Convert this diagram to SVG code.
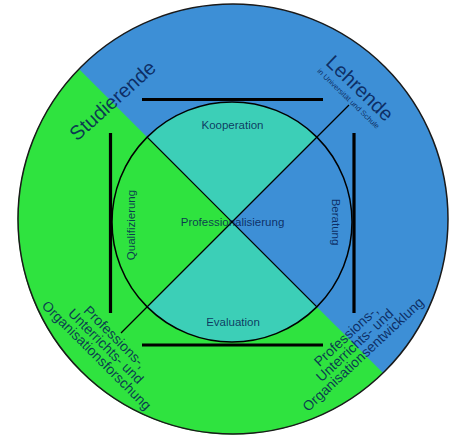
<svg xmlns="http://www.w3.org/2000/svg" width="470" height="441" viewBox="0 0 470 441">
<style>
.t{font-family:"Liberation Sans",Arial,Helvetica,sans-serif;fill:#051c52;fill-opacity:.85;text-anchor:middle}
.s{font-size:11.5px}
.big{font-size:20px}
.mid{font-size:14px}
.bar{stroke:#000;stroke-width:3.2;fill:none}
.ln{stroke:#000;stroke-width:1.3;fill:none}
.blue{fill:#3d8fd6}
.green{fill:#2fe33f}
.teal{fill:#3ccfb7}
</style>
<rect width="470" height="441" fill="#fff"/>
<g id="outer">
<circle class="blue" cx="233" cy="219" r="215"/>
<path class="green" d="M383.02,373.02 A215,215 0 0 1 78.98,68.98 Z"/>
<circle cx="233" cy="219" r="215" fill="none" stroke="#1a1a1a" stroke-width="1.5"/>
</g>
<g id="inner">
<path class="teal" d="M232,222 L147.15,137.15 A120,120 0 0 1 316.85,137.15 Z"/>
<path class="blue" d="M232,222 L316.85,137.15 A120,120 0 0 1 316.85,306.85 Z"/>
<path class="teal" d="M232,222 L316.85,306.85 A120,120 0 0 1 147.15,306.85 Z"/>
<path class="green" d="M232,222 L147.15,306.85 A120,120 0 0 1 147.15,137.15 Z"/>
<circle cx="232" cy="222" r="120" fill="none" stroke="#000" stroke-width="1.5"/>
</g>
<g id="connectors">
<line class="ln" x1="147.15" y1="137.15" x2="316.85" y2="306.85"/>
<line class="ln" x1="349" y1="105" x2="121" y2="333"/>
<line class="bar" x1="142" y1="99.5" x2="323" y2="99.5"/>
<line class="bar" x1="142" y1="345" x2="323" y2="345"/>
<line class="bar" x1="110.5" y1="133" x2="110.5" y2="313"/>
<line class="bar" x1="354" y1="133" x2="354" y2="313"/>
</g>
<g id="kooperation"><text class="t s" x="232.5" y="129">Kooperation</text></g>
<g id="evaluation"><text class="t s" x="233" y="326">Evaluation</text></g>
<g id="professionalisierung"><text class="t s" x="232.5" y="225.5">Professionalisierung</text></g>
<g id="qualifizierung"><text class="t s" transform="translate(131.5,225) rotate(-90)" y="3.5">Qualifizierung</text></g>
<g id="beratung"><text class="t s" transform="translate(335,222) rotate(90)" y="3.5">Beratung</text></g>
<g id="studierende"><text class="t big" transform="translate(112.5,100.5) rotate(-42)" y="7">Studierende</text></g>
<g id="lehrende">
<text class="t big" transform="translate(360,88) rotate(44)" y="7">Lehrende</text>
<text class="t" font-size="7.5" transform="translate(348.5,98.5) rotate(44)" y="2.7">in Universität und Schule</text>
</g>
<g id="forschung">
<text class="t mid" transform="translate(106,346) rotate(45)"><tspan x="0" y="-8">Professions-,</tspan><tspan x="0" y="5">Unterrichts- und</tspan><tspan x="0" y="18">Organisationsforschung</tspan></text>
</g>
<g id="entwicklung">
<text class="t mid" transform="translate(354.5,345) rotate(-43)"><tspan x="0" y="-7.5">Professions-,</tspan><tspan x="0" y="5">Unterrichts- und</tspan><tspan x="0" y="17.5">Organisationsentwicklung</tspan></text>
</g>
</svg>
